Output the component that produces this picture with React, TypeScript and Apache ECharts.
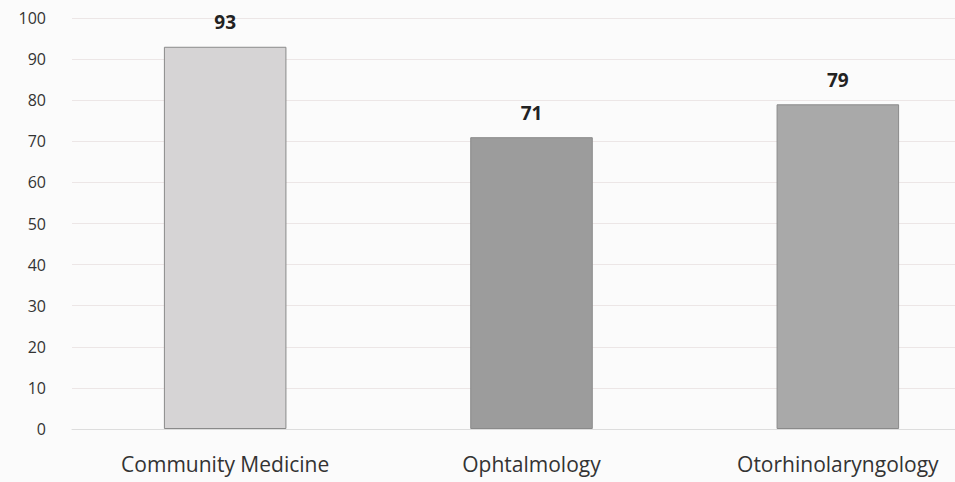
import React, { useEffect, useRef } from "react";
import * as echarts from "echarts";

const categories = ["Community Medicine", "Ophtalmology", "Otorhinolaryngology"];
const values = [93, 71, 79];
const barColors = ["#d6d4d5", "#9c9c9c", "#a9a9a9"];

const FONT = "'Open Sans', 'Noto Sans', sans-serif";

export default function App() {
  const ref = useRef<HTMLDivElement>(null);
  useEffect(() => {
    if (!ref.current) return;
    const chart = echarts.init(ref.current, null, { renderer: "svg" });
    chart.setOption({
      animation: false,
      backgroundColor: "#fbfbfb",
      grid: { left: 72, right: 0, top: 18, bottom: 53 },
      xAxis: {
        type: "category",
        data: categories,
        axisLine: { show: true, lineStyle: { color: "#dddddd" } },
        axisTick: { show: false },
        axisLabel: {
          color: "#333333",
          fontFamily: FONT,
          fontSize: 21,
          margin: 24,
          letterSpacing: -0.5,
        },
      },
      yAxis: {
        type: "value",
        min: 0,
        max: 100,
        interval: 10,
        axisLine: { show: false },
        axisTick: { show: false },
        splitLine: { lineStyle: { color: "#ece6e6", width: 1 } },
        axisLabel: {
          color: "#333333",
          fontFamily: FONT,
          fontSize: 16,
          margin: 26,
        },
      },
      series: [
        {
          type: "bar",
          data: values.map((v, i) => ({
            value: v,
            itemStyle: { color: barColors[i], borderColor: "#8a8a8a", borderWidth: 1 },
          })),
          barWidth: "40%",
          label: {
            show: true,
            position: "top",
            distance: 15,
            color: "#222222",
            fontSize: 19,
            fontWeight: "bold",
            fontFamily: FONT,
          },
        },
      ],
    });
    return () => chart.dispose();
  }, []);
  return (
    <div
      ref={ref}
      style={{ position: "fixed", left: 0, top: 0, width: 991, height: 482 }}
    />
  );
}
